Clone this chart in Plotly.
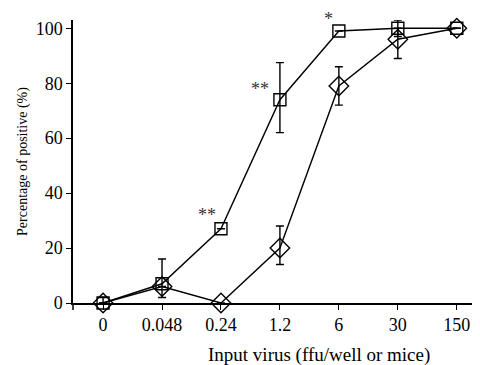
import plotly.graph_objects as go

doses = ["0", "0.048", "0.24", "1.2", "6", "30", "150"]
square_vals = [0, 7, 27, 74, 99, 100, 100]
square_err_plus = [0, 9, 0, 13.5, 0, 3, 0]
square_err_minus = [0, 5, 0, 12, 0, 3, 0]
diamond_vals = [0, 6, 0, 20, 79, 96, 100]
diamond_err_plus = [2, 0, 0, 8, 7, 4, 0]
diamond_err_minus = [0, 0, 0, 6, 7, 7, 0]
y_ticks = [0, 20, 40, 60, 80, 100]
sig_idx = [2, 3, 4]
sig_y = [32, 78, 103]
sig_text = ["**", "**", "*"]
sig_shift = [-14, -20, -10]
sig_yshift = [0, 0, 1]

FONT = "Liberation Serif, Times New Roman, serif"

fig = go.Figure()
fig.add_trace(go.Scatter(
    x=doses, y=diamond_vals, mode="lines+markers",
    line=dict(color="black", width=1.4),
    marker=dict(symbol="diamond-open", size=15, color="black", line=dict(width=1.4)),
    error_y=dict(type="data", array=diamond_err_plus, arrayminus=diamond_err_minus,
                 color="black", thickness=1.4, width=4),
    cliponaxis=False, showlegend=False))
fig.add_trace(go.Scatter(
    x=doses, y=square_vals, mode="lines+markers",
    line=dict(color="black", width=1.4),
    marker=dict(symbol="square-open", size=12, color="black", line=dict(width=1.4)),
    error_y=dict(type="data", array=square_err_plus, arrayminus=square_err_minus,
                 color="black", thickness=1.4, width=4),
    cliponaxis=False, showlegend=False))

for xi, yv, txt, xs, ys in zip(sig_idx, sig_y, sig_text, sig_shift, sig_yshift):
    fig.add_annotation(x=xi, y=yv, xref="x", yref="y", text=txt, showarrow=False,
                       xshift=xs, yshift=ys, font=dict(family=FONT, size=18, color="#333"))

# x-axis title (placed right of centre as in the reference)
fig.add_annotation(x=0.607, y=0, xref="paper", yref="paper", yshift=-52, yanchor="middle",
                   text="Input virus (ffu/well or mice)", showarrow=False,
                   font=dict(family=FONT, size=19, color="black"))

fig.add_shape(type="line", xref="paper", yref="paper", x0=0, x1=0, y0=-0.025, y1=0,
              line=dict(color="black", width=1.5))

# page has an 8px body margin, so the figure is sized/offset to compensate
fig.update_layout(
    width=472, height=357,
    margin=dict(l=65, r=2, t=12, b=62),
    paper_bgcolor="white", plot_bgcolor="white",
    font=dict(family=FONT, color="black"),
    xaxis=dict(type="category", range=[-0.51, 6.36], showline=True, linecolor="black",
               linewidth=1.5, ticks="outside", ticklen=5, tickcolor="black",
               tickfont=dict(size=18), showgrid=False, zeroline=False, automargin=False),
    yaxis=dict(range=[0, 103], tickvals=y_ticks, showline=True, linecolor="black",
               linewidth=1.5, ticks="outside", ticklen=5, tickcolor="black",
               tickfont=dict(size=18), showgrid=False, zeroline=False, automargin=False,
               title=dict(text="Percentage of positive (%)", font=dict(size=14), standoff=5)),
)

fig.write_html("out.html")
